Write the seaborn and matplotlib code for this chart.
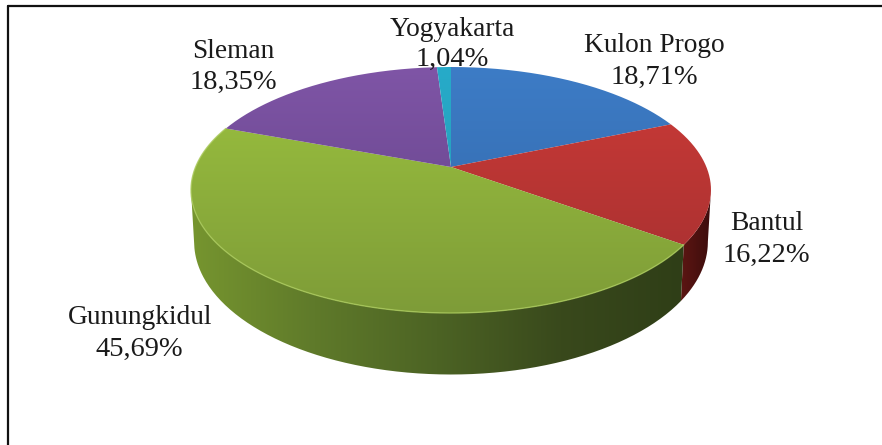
import matplotlib
matplotlib.use('Agg')
import matplotlib.pyplot as plt
from matplotlib.colors import LinearSegmentedColormap
from matplotlib.path import Path
from matplotlib.patches import PathPatch
import numpy as np
import seaborn as sns

# data
districts = ['Kulon Progo', 'Bantul', 'Gunungkidul', 'Sleman', 'Yogyakarta']
shares = [18.71, 16.22, 45.69, 18.35, 1.04]
share_labels = ['18,71%', '16,22%', '45,69%', '18,35%', '1,04%']

# top face colours, far edge to near edge
top_colors = [('#3d7cc6', '#3165a6'), ('#cc3b37', '#a32f30'), ('#9cc23f', '#7e9c38'),
              ('#7f55a6', '#5f4084'), ('#27abc9', '#2595b0')]
# side wall colours, left to right
side_colors = {1: ['#5c1613', '#3c0c0c'],
               2: ['#76952f', '#5f7a2a', '#4c6324', '#39491c', '#2f3e17']}

name_pos = [(654, 46), (767, 224), (140, 318), (233, 52), (452, 30)]
value_pos = [(654, 77), (766, 255), (139, 349), (233, 82), (452, 59)]

sns.set_theme(style='white')
plt.rcParams['font.family'] = ['Liberation Serif', 'DejaVu Serif']

W, H = 882, 445
CX, APEX_Y = 451, 167
A, B, K = 255.4, 118.7, 0.187  # tilted disc seen in perspective
DEPTH = 50


def project(theta_deg, depth=0.0, shrink=1.0):
    """Clockwise angle from the top of the pie to pixel position on the tilted disc."""
    t = np.radians(theta_deg)
    u, v = np.sin(t), np.cos(t)
    w = 1 + K * v
    return CX + shrink * A * u / w, APEX_Y - B * v / w + depth / w


def gradient_fill(ax, xs, ys, colors, horizontal=False):
    cmap = LinearSegmentedColormap.from_list('g', colors)
    grad = np.linspace(0, 1, 256)
    if horizontal:
        # side wall shading runs over the full width of the pie or slice
        ext = (xs.min(), xs.max(), ys.max(), ys.min())
        grad = grad[None, :]
    else:
        ext = (xs.min(), xs.max(), 313, 67)
        grad = grad[:, None]
    im = ax.imshow(grad, cmap=cmap, extent=ext, aspect='auto', interpolation='bilinear', zorder=2)
    clip = PathPatch(Path(np.column_stack([xs, ys])), transform=ax.transData, fc='none', ec='none')
    ax.add_patch(clip)
    im.set_clip_path(clip)
    return im


fig = plt.figure(figsize=(W / 100, H / 100), dpi=100)
ax = fig.add_axes([0, 0, 1, 1])

# slice angles from pie, clockwise from the top
wedges, _ = ax.pie(shares, startangle=90, counterclock=False)
bounds = [(90 - w.theta2, 90 - w.theta1) for w in wedges]
for w in wedges:
    w.remove()
ax.set_aspect('auto')
ax.set_xlim(0, W)
ax.set_ylim(H, 0)
ax.axis('off')

# frame
ax.plot([8, 8], [H, 6], color='#111111', lw=1.6)
ax.plot([8, W], [6, 6], color='#111111', lw=1.6)

# side wall, only the part facing the viewer
edge_l = np.degrees(np.arccos(-K))
edge_r = 360 - edge_l
for i, (a, b) in enumerate(bounds):
    lo, hi = max(a, edge_l), min(b, edge_r)
    if lo >= hi or i not in side_colors:
        continue
    th = np.linspace(lo, hi, 200)
    xt, yt = project(th)
    xb, yb = project(th, DEPTH, 0.988)
    xs = np.r_[xt, xb[::-1], xt[0]]
    ys = np.r_[yt, yb[::-1], yt[0]]
    gradient_fill(ax, xs, ys, side_colors[i], horizontal=True)

# top faces
for (a, b), cols in zip(bounds, top_colors):
    th = np.linspace(a, b, 200)
    xa, ya = project(th)
    xs = np.r_[CX, xa, CX]
    ys = np.r_[APEX_Y, ya, APEX_Y]
    gradient_fill(ax, xs, ys, cols)

# thin light rim on the green front
th = np.linspace(max(bounds[2][0], edge_l), bounds[2][1], 200)
xr, yr = project(th)
ax.plot(xr, yr, color='#a9c95a', lw=1.0, alpha=0.8, zorder=3)

# labels
for name, lab, np_, vp in zip(districts, share_labels, name_pos, value_pos):
    ax.text(np_[0], np_[1], name, ha='center', va='center', fontsize=19.7, color='#1a1a1a', zorder=5)
    ax.text(vp[0], vp[1], lab, ha='center', va='center', fontsize=20.5, color='#1a1a1a', zorder=5)

fig.savefig('out.png', dpi=100)
